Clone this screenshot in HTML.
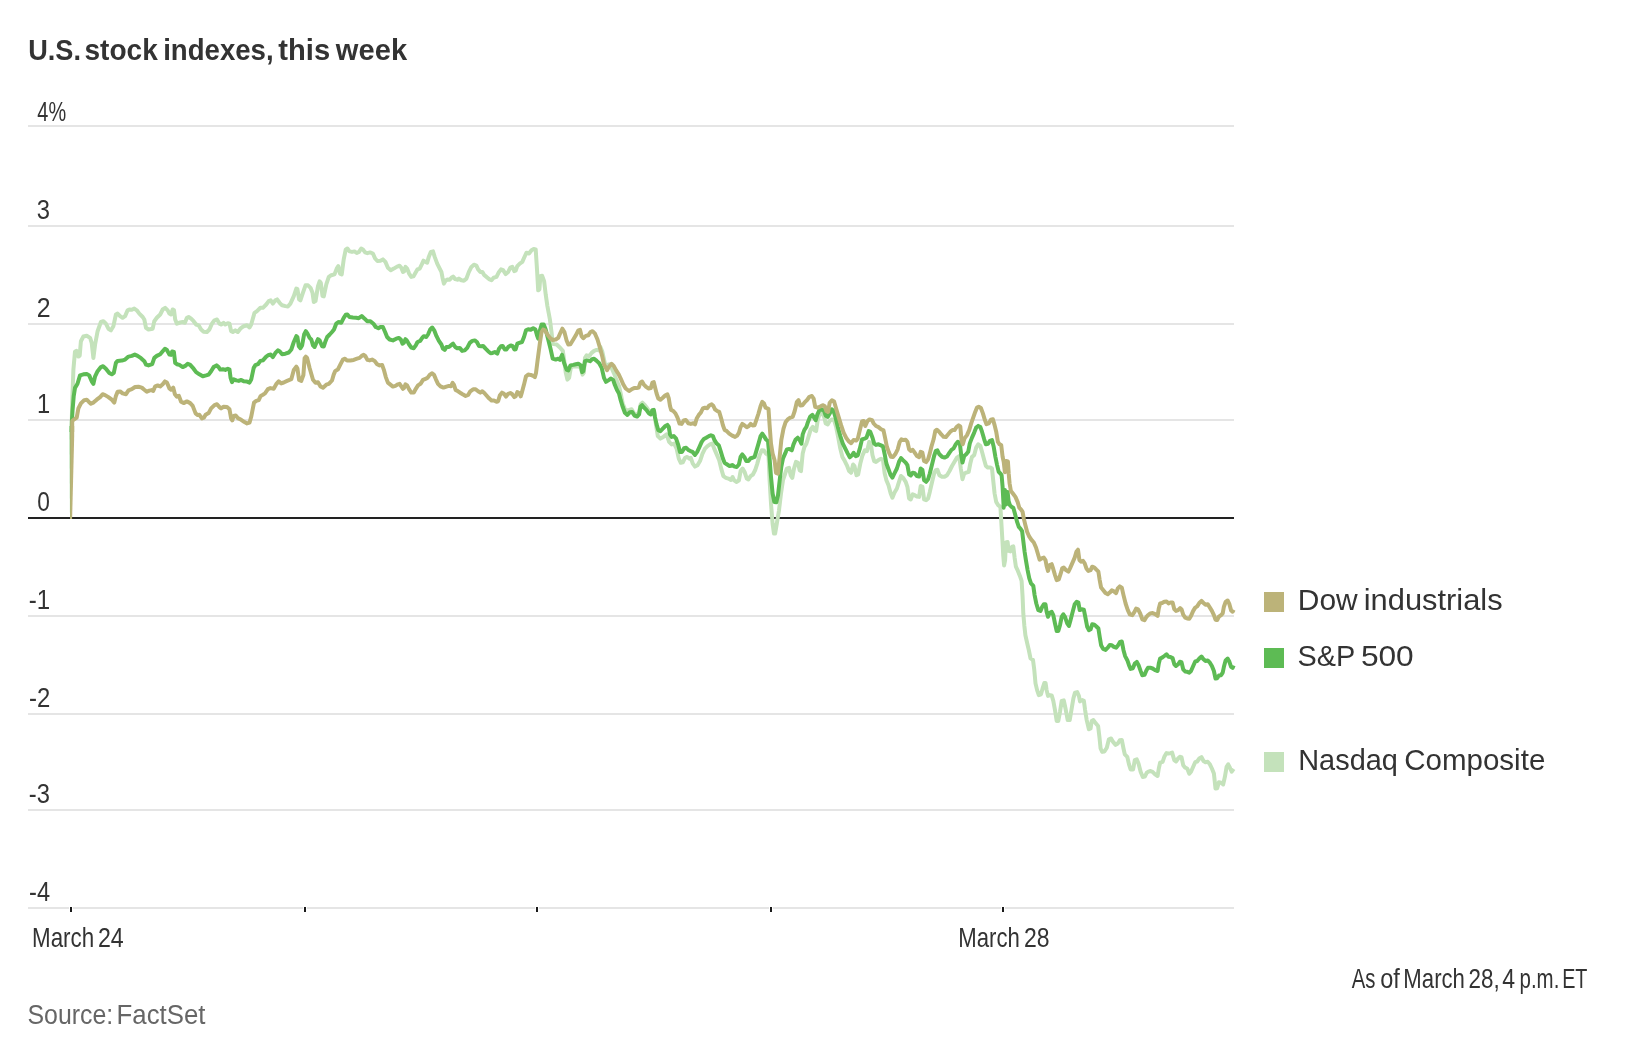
<!DOCTYPE html>
<html><head><meta charset="utf-8"><title>U.S. stock indexes, this week</title>
<style>
html,body{margin:0;padding:0;background:#fff;}
body{width:1632px;height:1048px;overflow:hidden;font-family:"Liberation Sans",sans-serif;}
svg{display:block;will-change:transform;}
text{font-family:"Liberation Sans",sans-serif;}
</style></head><body>
<svg width="1632" height="1048" viewBox="0 0 1632 1048">
<rect width="1632" height="1048" fill="#fff"/>
<rect x="28" y="125" width="1206" height="2" fill="#e5e5e5"/>
<rect x="28" y="225" width="1206" height="2" fill="#e5e5e5"/>
<rect x="28" y="323" width="1206" height="2" fill="#e5e5e5"/>
<rect x="28" y="419" width="1206" height="2" fill="#e5e5e5"/>
<rect x="28" y="615" width="1206" height="2" fill="#e5e5e5"/>
<rect x="28" y="713" width="1206" height="2" fill="#e5e5e5"/>
<rect x="28" y="809" width="1206" height="2" fill="#e5e5e5"/>
<rect x="28" y="907" width="1206" height="2" fill="#e5e5e5"/>
<rect x="28" y="517" width="1206" height="2" fill="#222"/>
<rect x="69" y="906" width="4" height="7" fill="#fff"/><rect x="70" y="907" width="2" height="5" fill="#1a1a1a"/>
<rect x="303" y="906" width="4" height="7" fill="#fff"/><rect x="304" y="907" width="2" height="5" fill="#1a1a1a"/>
<rect x="535" y="906" width="4" height="7" fill="#fff"/><rect x="536" y="907" width="2" height="5" fill="#1a1a1a"/>
<rect x="769" y="906" width="4" height="7" fill="#fff"/><rect x="770" y="907" width="2" height="5" fill="#1a1a1a"/>
<rect x="1001" y="906" width="4" height="7" fill="#fff"/><rect x="1002" y="907" width="2" height="5" fill="#1a1a1a"/>
<text x="28.23" y="59.9" font-size="29.5" font-weight="700" fill="#333" textLength="52.72" lengthAdjust="spacingAndGlyphs">U.S.</text>
<text x="84.54" y="59.9" font-size="29.5" font-weight="700" fill="#333" textLength="73.23" lengthAdjust="spacingAndGlyphs">stock</text>
<text x="163.14" y="59.9" font-size="29.5" font-weight="700" fill="#333" textLength="110.51" lengthAdjust="spacingAndGlyphs">indexes,</text>
<text x="278.34" y="59.9" font-size="29.5" font-weight="700" fill="#333" textLength="51.84" lengthAdjust="spacingAndGlyphs">this</text>
<text x="335.87" y="59.9" font-size="29.5" font-weight="700" fill="#333" textLength="71.21" lengthAdjust="spacingAndGlyphs">week</text>
<text x="37.36" y="120.7" font-size="28.1" fill="#333" textLength="28.74" lengthAdjust="spacingAndGlyphs">4%</text>
<text x="36.79" y="218.6" font-size="28.1" fill="#333" textLength="13.21" lengthAdjust="spacingAndGlyphs">3</text>
<text x="36.65" y="317.0" font-size="28.1" fill="#333" textLength="13.83" lengthAdjust="spacingAndGlyphs">2</text>
<text x="37.01" y="413.2" font-size="28.1" fill="#333" textLength="13.19" lengthAdjust="spacingAndGlyphs">1</text>
<text x="37.21" y="510.9" font-size="28.1" fill="#333" textLength="12.63" lengthAdjust="spacingAndGlyphs">0</text>
<text x="28.79" y="609.1" font-size="28.1" fill="#333" textLength="21.42" lengthAdjust="spacingAndGlyphs">-1</text>
<text x="29.03" y="707.1" font-size="28.1" fill="#333" textLength="21.24" lengthAdjust="spacingAndGlyphs">-2</text>
<text x="28.87" y="803.0" font-size="28.1" fill="#333" textLength="21.10" lengthAdjust="spacingAndGlyphs">-3</text>
<text x="29.07" y="901.2" font-size="28.1" fill="#333" textLength="20.99" lengthAdjust="spacingAndGlyphs">-4</text>
<text x="31.99" y="947.2" font-size="27.5" fill="#333" textLength="62.18" lengthAdjust="spacingAndGlyphs">March</text>
<text x="97.91" y="947.2" font-size="27.5" fill="#333" textLength="25.78" lengthAdjust="spacingAndGlyphs">24</text>
<text x="958.30" y="947.2" font-size="27.5" fill="#333" textLength="61.57" lengthAdjust="spacingAndGlyphs">March</text>
<text x="1023.96" y="947.2" font-size="27.5" fill="#333" textLength="25.58" lengthAdjust="spacingAndGlyphs">28</text>
<text x="1351.81" y="987.9" font-size="27.5" fill="#333" textLength="23.70" lengthAdjust="spacingAndGlyphs">As</text>
<text x="1380.14" y="987.9" font-size="27.5" fill="#333" textLength="19.63" lengthAdjust="spacingAndGlyphs">of</text>
<text x="1403.37" y="987.9" font-size="27.5" fill="#333" textLength="61.55" lengthAdjust="spacingAndGlyphs">March</text>
<text x="1468.60" y="987.9" font-size="27.5" fill="#333" textLength="31.14" lengthAdjust="spacingAndGlyphs">28,</text>
<text x="1502.20" y="987.9" font-size="27.5" fill="#333" textLength="12.81" lengthAdjust="spacingAndGlyphs">4</text>
<text x="1519.52" y="987.9" font-size="27.5" fill="#333" textLength="39.82" lengthAdjust="spacingAndGlyphs">p.m.</text>
<text x="1562.17" y="987.9" font-size="27.5" fill="#333" textLength="25.25" lengthAdjust="spacingAndGlyphs">ET</text>
<text x="27.49" y="1024.1" font-size="27.5" fill="#666" textLength="85.72" lengthAdjust="spacingAndGlyphs">Source:</text>
<text x="116.59" y="1024.1" font-size="27.5" fill="#666" textLength="88.81" lengthAdjust="spacingAndGlyphs">FactSet</text>
<text x="1297.80" y="609.7" font-size="29.5" fill="#333" textLength="59.88" lengthAdjust="spacingAndGlyphs">Dow</text>
<text x="1363.77" y="609.7" font-size="29.5" fill="#333" textLength="138.89" lengthAdjust="spacingAndGlyphs">industrials</text>
<text x="1297.51" y="665.7" font-size="29.5" fill="#333" textLength="57.69" lengthAdjust="spacingAndGlyphs">S&amp;P</text>
<text x="1360.92" y="665.7" font-size="29.5" fill="#333" textLength="52.84" lengthAdjust="spacingAndGlyphs">500</text>
<text x="1298.28" y="769.7" font-size="29.5" fill="#333" textLength="99.56" lengthAdjust="spacingAndGlyphs">Nasdaq</text>
<text x="1404.28" y="769.7" font-size="29.5" fill="#333" textLength="141.03" lengthAdjust="spacingAndGlyphs">Composite</text>
<g fill="none" stroke-width="4" stroke-linejoin="round" stroke-linecap="butt">
<path stroke="#c4e2bb" d="M71.6,432 L71.8,420 L72.2,403 L73.4,369.6 L75,351.5 L76.5,350.9 L77.7,352.2 L78.4,356.6 L79.7,355.6 L80.9,341.2 L83.4,336.5 L86.7,335.7 L90.1,337.9 L91.7,342.9 L93.4,357.9 L95.1,344.5 L97.6,331.2 L100.9,322 L103.4,321.2 L105.9,323.7 L108.4,328.7 L110.9,330.3 L113.4,326.2 L115.9,314.5 L117.6,313.6 L120.1,316.1 L122.6,317.8 L125.1,316.1 L127.6,310.3 L129.3,309.5 L131.8,309.8 L134.3,308.6 L136.8,310.3 L139.3,313.6 L142.7,317 L144.3,319.5 L146,327.8 L148.5,329.5 L152.7,328.7 L154.3,321.2 L156.8,317.8 L160.2,314.5 L162.7,309.5 L165.2,307.8 L167.7,310.3 L169.4,313.6 L171,314.5 L172.7,309.5 L174,310.3 L175.2,319.5 L176.9,323.7 L180.2,322.5 L182.7,322 L184.9,322.8 L186.9,317.8 L188.6,317 L191.1,318.7 L193.6,321.2 L196.1,324.5 L198.6,325.3 L201.1,329.5 L203.6,331.7 L206.9,332 L209.4,329.5 L211.9,323.7 L214.5,320.3 L217,319.5 L219.5,323.7 L221.1,324.5 L223.6,322.8 L225.3,324.5 L227.8,323.2 L229.5,323.7 L231.1,331.2 L232.8,332 L235.3,330.3 L237.8,332 L240.3,328.7 L243.7,326.2 L247,325.3 L249.5,327.5 L251.2,324.5 L254.5,312.8 L257,311.1 L260.4,307.8 L262.9,307.8 L266.2,304.5 L268.7,301.1 L270.7,300.3 L272.9,303.6 L275.4,300.3 L277.1,299.4 L279.6,302.8 L282.1,305.3 L285.4,306.1 L287.9,306.5 L290.4,303.6 L293.8,296.1 L296.3,288.6 L297.4,289.1 L299.1,299.4 L300.4,300.3 L302.9,292.8 L305.5,285.3 L308,285.3 L310.5,287.8 L312.5,292.8 L313.8,302 L315.5,301.1 L318,286.1 L319.6,281.4 L320.8,282.8 L322.5,296.1 L323.8,296.4 L326.3,284.4 L328.8,276.9 L331.3,275.2 L334.5,274.4 L336.7,268.6 L338.3,266.1 L340,273.6 L341.7,274.4 L343.7,259.4 L345.7,249.7 L347.4,248.5 L349.5,251.4 L352,251.9 L354.5,251.4 L356.7,253 L359,251.9 L361.2,248.5 L362.9,249.4 L365.1,252.4 L367.4,253.2 L370.1,252.4 L372.9,253.5 L375.1,258.5 L377.4,261 L380.4,260.7 L382.9,259.4 L385.4,261.9 L387.9,267.7 L390.8,270.2 L393.8,268.6 L397.1,266.6 L399.6,265.7 L401.3,267.7 L403,271.9 L404.1,271.4 L405.5,266.9 L407.1,268.6 L409.1,273.6 L411.3,276.9 L413.5,276.4 L415.5,272.7 L417.5,269.4 L419.7,268.6 L421.8,264.4 L423.5,260.7 L425.5,261.9 L427.2,262.7 L428.8,256.9 L430.8,251.9 L433,251.4 L434.7,256.9 L437.2,263.6 L439.7,268.6 L441.4,271.9 L442.5,277.7 L443.9,283.6 L445.5,280.7 L447.5,279.4 L449.7,279.7 L451.4,277.7 L453.1,276.6 L455.2,279.1 L457.2,279.7 L458.9,278.6 L461.4,280.2 L463.9,280.7 L466.4,278.6 L468.9,271.9 L471.4,266.9 L473.9,264.7 L476.4,265.7 L478.1,269.4 L480.3,271.9 L482.3,271.9 L484.3,275.2 L486.5,276.9 L489,279.1 L491.5,280.2 L493.6,277.7 L496.5,276.9 L499,271.9 L501,269.4 L503.1,270.2 L505.7,274.1 L508.2,271.9 L510.3,267.7 L512.3,266.9 L514.3,271.1 L515.7,270.7 L517.3,266.1 L519.8,263.6 L522.3,261.9 L524.9,256 L526.5,252.7 L529,253.5 L531.5,250.2 L533.7,249 L535.7,249.4 L537,269.4 L538.2,290.3 L539.4,289.4 L540.4,276.1 L542.1,275.7 L544.1,281.1 L545.7,294.4 L547.4,306.1 L549.9,319.5 L551.6,332.8 L552.7,343.7 L556.7,344.5 L559.9,347.5 L562.8,350.9 L564.1,359.6 L565.8,372.9 L567.4,379.6 L569.1,377.9 L570.8,367.9 L573.3,366.2 L575.8,366.6 L578.3,366.2 L580.8,367.9 L582.5,374.6 L583.8,372.9 L585,357.9 L586.6,355.4 L589.1,356.2 L591.6,352.9 L594.1,350.9 L596.7,349.9 L598.7,350.4 L600.3,346.9 L602.2,351.2 L605.3,365.4 L609,364.3 L611.5,367.6 L614,373.4 L616.5,380.1 L619,386 L620.7,393.5 L622.7,403.5 L625.4,410.2 L629,409.9 L631.6,409.3 L634.1,413.5 L637.1,415.2 L639.1,411.9 L640.7,404.3 L642.4,402.7 L644.9,405.2 L647.4,408.5 L649.9,412.2 L652.4,410.2 L654.1,411 L655.8,423.5 L657.8,436.1 L660.4,438.6 L663.3,436.9 L666.6,434.4 L669.1,441.9 L671.6,444.4 L674.1,443.6 L676.6,448.6 L678.8,458.6 L680.8,462.8 L682.8,462.3 L685,457.8 L687.2,456.9 L689.2,458.6 L690.8,457.8 L692.8,463.6 L695,466.6 L697.5,465.3 L700,461.1 L702.5,453.6 L705,448.6 L707.5,446.1 L710,444.4 L712.2,443.6 L714.2,448.6 L716.7,454.4 L719.2,460.3 L721.2,468.6 L723.4,476.1 L725.9,477.8 L728.4,478.6 L730.9,480 L732.6,477 L734.2,480.3 L736.7,482 L738.9,480.3 L740.6,471.1 L742.6,468.6 L744.6,472 L746.8,478.6 L748.4,479.5 L750.6,476.1 L752.9,474.5 L755.1,470.3 L757.3,463.6 L759.6,455.3 L761.8,450.3 L764,450.6 L766,453.6 L768.5,455.3 L769.6,480.1 L771,503.5 L772.6,523.6 L774,533.6 L775.1,533.6 L776.8,523.6 L779,510.2 L781,493.5 L783,480.1 L785.2,473.5 L786.8,468.6 L789,467.8 L790.7,475.3 L792.3,477.8 L794,468.6 L796,461.9 L798,462.8 L799.7,470.3 L801,471.1 L802.7,453.6 L804.4,446.9 L806.4,443.6 L808.5,436.9 L810.7,429.4 L812.7,426.9 L814.4,430.2 L816.1,431.1 L817.7,420.2 L819.7,413.5 L821.9,411.9 L824.1,416.9 L825.7,423.5 L827.7,424.4 L829.7,421 L831.9,419.4 L834.1,420.2 L836.1,426.9 L838.1,436.9 L840.3,448.6 L842.4,456.9 L844.8,461.1 L846.9,465.3 L849.1,471.1 L851.1,472.8 L853.1,464.5 L854.5,466.1 L856.5,475.3 L858.1,474.5 L860.3,463.6 L862.5,455.3 L864.8,450.3 L867,451.1 L869.2,441.9 L870.8,443.6 L872.5,455.3 L874.2,461.1 L876,461.9 L878.5,460.1 L881,458.8 L883,460.1 L884.7,473.5 L886.4,480.2 L888.5,485.2 L890.7,493.5 L892.4,497.7 L894.4,492.7 L896.9,488.5 L899,481.8 L901,476 L903,477.7 L905.7,481.8 L907.4,486.8 L909.1,498.5 L910.7,499.4 L912.7,494.4 L914.7,495.2 L916.9,496.5 L919.1,496.9 L920.7,486 L922.4,486.8 L924.1,499.4 L926.1,500.2 L928.1,498.5 L929.8,491.9 L931.9,482.7 L934.1,473.5 L935.8,470.1 L937.4,469.8 L939.4,475.2 L942,476.8 L944.5,476.8 L947,475.2 L949.5,471 L952,466 L954.5,461.8 L957,457.6 L959.2,456 L960.8,468.5 L962.5,479.3 L964.2,473.5 L966.2,472.7 L968.7,471.8 L970.3,463.5 L972,456.8 L974.2,455.1 L976.2,447.6 L978.2,444.3 L980.4,445.9 L982,451.8 L984.2,460.1 L985.9,466 L987.9,467.6 L990.4,467.6 L992,468.5 L993.2,480.2 L994.6,493.5 L996.2,501.9 L998.2,505.2 L1000.4,506.9 L1001.2,520.2 L1002.4,540 L1003.2,555 L1004.1,565.4 L1005.1,560.1 L1005.9,542.5 L1007.6,542 L1008.7,550.9 L1010.4,551.4 L1012.1,546.7 L1013.3,546.4 L1014.6,557.6 L1015.9,566.7 L1017.9,570.9 L1019.9,575.9 L1021.6,580.9 L1022.6,596.8 L1023.3,613.5 L1024.3,625.2 L1025.4,635.2 L1027.6,645 L1028.8,650 L1030.5,658.4 L1033,660 L1034.3,670.1 L1035.5,683.4 L1037.1,690.1 L1038.8,695.1 L1041,694.3 L1042.6,688.4 L1044.3,683.1 L1045.6,683.1 L1046.6,690.1 L1048,695.9 L1050,695.1 L1051.7,695.4 L1053.3,700.9 L1055,710.1 L1056.7,721 L1058.3,721 L1060,711.8 L1061.7,700.9 L1063.8,700.4 L1065.5,708.5 L1067.7,720.1 L1069.7,720.1 L1071.4,710.1 L1073.4,698.4 L1075,692.6 L1077.2,692.1 L1078.9,695.9 L1080,701.4 L1082.2,700.1 L1083.9,700.9 L1085.1,710.1 L1086.7,720.1 L1088.9,729.3 L1090.6,728.5 L1091.7,721 L1093.4,720.1 L1095.6,723.2 L1098.1,726 L1099.4,736.8 L1100.6,748.5 L1102.2,751.9 L1104.4,751.5 L1106.8,747.7 L1108.9,739.3 L1111.1,738.5 L1113.1,741.9 L1115.6,744.9 L1117.8,743.5 L1119.8,740.2 L1121.8,739.9 L1123.5,748.5 L1124.8,754.4 L1127.3,756.9 L1129,764.4 L1130.6,769.4 L1133.1,769.4 L1134.8,760.2 L1136.8,759.4 L1138.5,763.6 L1140.7,771.9 L1142.8,776.9 L1144.8,776.6 L1146.8,772.7 L1148,771.9 L1150.1,771 L1152.6,771.8 L1155.1,774.3 L1157.6,776 L1158.8,768.5 L1160.1,762.7 L1162.6,761.8 L1164.3,756.8 L1166.5,753.1 L1168.5,753.5 L1170.5,753.1 L1172.1,752.6 L1174.3,760.1 L1176,761.5 L1178.1,758.5 L1179.8,756.8 L1181.5,757.1 L1183.2,765.2 L1185.2,767.7 L1187.2,768.5 L1189.3,773.8 L1191,771.8 L1193.2,766.8 L1195.2,762.2 L1197.2,761.5 L1199.3,758.5 L1201.5,757.1 L1203.5,761 L1205.5,762.2 L1207.7,761.8 L1209.9,764.3 L1211.9,768.5 L1213.9,773.5 L1215.5,788.5 L1217.2,788.2 L1218.9,782.2 L1221.1,782.7 L1223.2,784.4 L1224.9,776.8 L1226.6,766.8 L1228.2,764.3 L1229.9,767.7 L1231.7,771.7 L1233.7,768.8"/>
<path stroke="#5dbb54" d="M71.7,432 L71.9,421 L72.5,411 L73.7,396.3 L75,387.9 L77.5,383.8 L80,375.4 L83.4,374.3 L86.7,373.9 L89.2,375.4 L91.7,381.3 L93.4,383.8 L95.1,376.3 L97.6,371.2 L100.9,367.1 L103.1,366.2 L105.9,368.7 L109.3,372.9 L111.8,374.3 L113.8,372.9 L115.9,362.9 L117.6,360.9 L121.8,360.6 L125.1,359.6 L128.5,356.6 L131.8,355.9 L134.8,354.6 L137.6,355.9 L141,358.2 L144.3,361.2 L146,364.6 L148.5,365.4 L152.2,364.2 L154.3,357.9 L156.8,355.9 L160.2,354.2 L162.7,351.2 L164.9,348.7 L166.9,350 L169.4,354.6 L171,354.9 L172.2,351.5 L173.9,352 L175.2,362.9 L176.9,364.2 L179.4,364.9 L182.7,367.1 L185.2,365.9 L187.7,363.7 L190.2,364.9 L193.6,368.7 L196.1,372.1 L199.4,374.3 L202.8,376.3 L206.1,375.4 L208.6,374.6 L211.1,371.2 L213.6,367.1 L216.5,365.4 L218.6,367.1 L220.3,369.6 L222.8,369.2 L225.3,369.9 L227.8,368.7 L229.5,369.6 L230.6,377.9 L232,382.1 L233.7,379.3 L236.2,380.4 L238.7,380.9 L241.2,379.9 L243.7,381.3 L247,381.6 L249.5,382.6 L251.2,379.6 L253.7,367.9 L255.4,365.1 L257.9,364.2 L260.4,360.9 L262.9,360.4 L266.2,356.6 L268.7,354.9 L270.7,354.6 L272.9,357.1 L275.4,352.9 L277.9,350.4 L279.6,351.2 L282.1,354.2 L285.4,353.7 L288.8,352.5 L291.3,349.5 L293.8,342 L296.3,336.2 L297.4,337 L298.8,346.2 L300.4,348.2 L302.1,345.4 L304.1,334.5 L305.8,331.2 L307.5,333.7 L309.6,337.9 L311.3,339.5 L313,345.4 L314.6,347 L316.3,342.9 L318,339.2 L319.6,340.4 L322.1,346.2 L323.8,346.5 L325.5,341.2 L327.2,337 L329.7,334.5 L332,332 L334,329.5 L336.2,323.7 L338.7,322 L341.2,322.8 L343.7,317.8 L345.7,314.8 L347.4,314.5 L349.5,317 L352.9,317.5 L356.2,317.8 L358.7,318.2 L361.7,316.1 L364.6,318.7 L367.1,321.2 L370.4,321.2 L373.4,323.7 L375.7,327 L378.4,328.2 L380.4,327 L382.9,327 L385.1,332 L387.1,337 L389.6,339.5 L392.9,340.4 L396.3,338.7 L398.8,337.9 L400.8,339.5 L402.5,343.7 L403.8,342.9 L405.5,339.2 L407.1,340.9 L409.1,344.5 L411.3,347.5 L413.8,348.2 L415.8,345.4 L417.5,342 L420.2,340.9 L422.2,337.9 L423.8,336.2 L426.3,337 L428,334.5 L430.2,329.5 L432.2,327.5 L434.2,330.3 L436.4,335.9 L438.9,340.9 L441.4,344.5 L443,348.7 L444.7,349.9 L446.4,347 L448.9,347 L450.9,345.4 L453.1,343.7 L455.2,347 L457.2,348.2 L459.7,347.9 L462.2,350.9 L464.7,350.4 L467.2,347.9 L469.8,342.9 L472.3,340.9 L474.8,340.4 L476.9,342 L478.9,345.9 L481.4,346.2 L483.1,345.9 L485.6,348.7 L488.1,351.2 L490.6,353.2 L492.6,352.9 L494.8,352 L497.3,353.7 L499,348.7 L501,346.2 L502.6,345.9 L504.8,349.5 L506.5,349.5 L508.2,347 L510.7,345.4 L512.7,346.2 L514.3,349.5 L515.7,349.2 L517.3,343.7 L519.3,342.9 L522,342 L524,337 L526,330.3 L528.2,329.2 L530.7,329.8 L533.2,328.2 L535.4,329.5 L537,335.3 L538.2,338.7 L539.9,330.3 L541.6,324.5 L543.7,324.5 L545.7,329.5 L548.2,339.5 L550.7,349.5 L552.7,358.7 L555.7,359.6 L558.2,358.7 L559.9,359.9 L562.1,354.9 L564.1,362.9 L566.6,369.6 L568.3,370.4 L570.4,365.4 L573.3,364.9 L575.8,364.2 L578.3,363.7 L580.8,365.4 L582.1,372.1 L583.3,371.2 L585,361.2 L587.5,360.4 L590,361.2 L592.1,359.2 L594.1,358.7 L596.7,360.9 L599.2,363.2 L601.7,367.9 L604,377.9 L606,381.8 L608.7,380.1 L611,378.5 L613.2,380.1 L614.9,385.1 L617,390.1 L619,393.5 L620.7,400.2 L622.7,406.8 L624.9,412.7 L627.4,414.9 L629.9,412.2 L632.1,411.9 L634.4,415.5 L637.1,416.5 L639.1,414.4 L640.4,406.8 L642.1,405.2 L644.1,407.7 L646.6,410.2 L648.7,413.2 L650.8,414.4 L652.4,410.2 L653.8,409.9 L654.9,416.9 L656.6,424.4 L658.3,430.2 L660.4,431.1 L662.8,428.6 L665.4,426 L667.4,424.9 L668.8,426.9 L670,434.4 L671.6,436.9 L673.8,436.1 L676.1,438.6 L678.3,445.2 L680,451.9 L682.1,451.9 L684.1,448.3 L686.2,447.8 L688.3,449.9 L690.5,451.1 L692.5,451.9 L695,454.9 L697.2,451.9 L699.5,446.9 L701.7,441.9 L703.9,438.9 L706.2,437.7 L708.9,436.1 L710.9,435.2 L712.9,436.1 L714.5,440.2 L716.7,443.6 L718.9,445.6 L720.9,451.9 L722.9,458.6 L724.6,462.8 L727.2,464.5 L729.6,466.1 L732.2,465 L734.6,466.6 L736.7,467 L738.9,464.5 L740.6,456.9 L742.3,454.4 L744.3,456.9 L746.3,461.1 L748.4,461.1 L750.6,458.3 L752.6,457.8 L754.6,456.9 L756.3,451.1 L758.5,443.6 L760.6,436.1 L762.3,433.6 L764,436.1 L766,439.4 L768,441.1 L769.6,458.4 L771,476.8 L772.6,493.5 L774.3,501.9 L776.3,502.2 L778,495.2 L779.7,480.1 L781.3,466.8 L783,458.4 L785.2,453.4 L786.8,449.4 L789.3,448.9 L791.8,450.3 L793.5,444.4 L795.7,439.4 L797.7,437.7 L799.7,440.2 L801.4,443.6 L802.7,434.4 L804.4,429.9 L806.4,426.9 L808,421.9 L810.2,416.5 L812.4,414.9 L814.1,417.7 L815.7,420.2 L817.4,414.4 L819.4,410.2 L821.9,409.3 L824.1,411 L825.7,415.5 L827.7,416.9 L829.7,413.5 L831.9,409.3 L833.6,411 L835.8,418.5 L837.8,426.9 L840.3,436.1 L842.8,443.6 L845.3,448.6 L847.8,453.6 L849.8,457.3 L852,455.3 L853.6,452.8 L855.8,456.1 L857.8,455.3 L859.8,448.6 L862,439.4 L864.5,438.6 L866.5,437.7 L868.7,431.1 L870.3,431.9 L872.5,437.7 L874.2,443.6 L876,444.9 L878.5,444.3 L881,445.4 L883,446.4 L884.7,454.3 L886.4,463.5 L888.5,469.3 L890.7,475.2 L892.4,477.7 L894.4,473.5 L896.9,468.5 L899,461.8 L901,458.1 L903,460.1 L905.7,462.6 L907.4,465.1 L909.1,474.3 L910.7,475.5 L912.7,472.7 L914.7,473.2 L916.9,476 L919.1,476.5 L920.7,468.5 L922.4,469.8 L924.1,480.2 L926.1,481.8 L928.1,479.3 L929.8,473.5 L931.9,465.1 L934.1,456 L935.8,450.9 L937.4,450.4 L939.4,454.3 L942,456.8 L944.5,457.6 L947,456.5 L949.5,452.6 L951.5,449.8 L953.6,448.4 L955.8,444.3 L957.8,441.8 L959.8,443.1 L961.2,455.1 L962.5,462.6 L964.2,456 L966.2,454.3 L968.2,451.8 L969.8,443.4 L972,437.6 L974.2,432.6 L976.2,427.6 L978.2,425.9 L980.4,427.1 L982,431.7 L984.2,439.3 L985.9,444.3 L987.9,443.8 L989.9,440.9 L992,440.1 L993.7,446.8 L995.4,456.8 L997.1,465.1 L998.7,471.8 L1000.4,473.5 L1001.6,475.2 L1002.6,486.8 L1003.7,507.7 L1004.9,489.9 L1006.2,504.4 L1007.6,491.9 L1008.6,501 L1009.9,505.2 L1011.6,506.9 L1013.3,507.7 L1014.9,513.6 L1017.1,521.9 L1018.8,526.9 L1020.4,528.6 L1022.1,531.1 L1023.3,540.9 L1024.6,551.7 L1025.9,560.1 L1027.6,570.1 L1029.3,578.4 L1031,583.4 L1033.3,585.9 L1034.6,595.1 L1036.3,603.5 L1038.3,610.1 L1040.5,611 L1042.1,607.1 L1043.8,604.3 L1045.5,604.3 L1046.6,611.8 L1048,616.8 L1049.7,612.7 L1051.7,611.8 L1053.3,615.2 L1055,623.5 L1056.7,631 L1058.3,631 L1060,625.2 L1061.7,616.8 L1063.3,614.3 L1065,616.8 L1067.2,623.5 L1068.9,626 L1070.5,620.2 L1072.7,611.8 L1074.7,604.3 L1076.7,601.8 L1078.4,602.6 L1079.7,610.1 L1081.7,609.3 L1083.9,609.8 L1085.6,618.5 L1087.2,626.8 L1088.9,630.2 L1090.6,629.3 L1092.2,624.3 L1094.4,624.8 L1096.4,626.5 L1098.4,628.5 L1099.7,636.9 L1101.1,645.2 L1103.1,648.9 L1105.6,649.9 L1107.8,647.7 L1109.8,644.9 L1111.8,645.2 L1113.9,646.9 L1116.1,647.7 L1118.1,645.2 L1120.1,641.9 L1121.8,641.5 L1123.5,650.2 L1125.1,656.1 L1127.3,660.2 L1129,665.2 L1130.6,668.9 L1132.8,668.3 L1134.8,663.6 L1136.8,661.9 L1138.5,664.9 L1140.7,671.1 L1142.3,675.3 L1144.5,674.9 L1146.5,670.3 L1148,667.8 L1150.1,667.7 L1152.6,668.5 L1155.1,670.2 L1157.6,671 L1158.8,663.5 L1160.1,658.5 L1162.1,657.6 L1164.3,656 L1166.5,654.3 L1168.5,656.8 L1170.5,657.1 L1172.6,658.1 L1174.3,664.3 L1176,666 L1178.1,664.3 L1179.8,661.8 L1181.5,662.2 L1183.2,669.3 L1185.2,671.5 L1187.2,671.8 L1189.3,672.7 L1191,671 L1193.2,666 L1195.2,661.5 L1197.2,661 L1199.3,658.5 L1201.5,656.5 L1203.5,659.3 L1205.5,661 L1207.7,660.5 L1209.9,662.7 L1211.9,666 L1213.9,671 L1215.5,678.5 L1217.2,678.2 L1218.9,675.5 L1221.1,675.2 L1222.7,672.7 L1223.9,666.8 L1225.6,660.5 L1227.7,658.6 L1229.4,661.8 L1231.1,666.8 L1232.6,667.8 L1233.7,665.5"/>
<path stroke="#bcb379" d="M72.2,432 L72.2,421 L74.2,419.3 L76.7,417.6 L78.4,408.4 L80.9,403.4 L84.2,400.1 L86.7,399.7 L88.7,401.7 L90.9,403.7 L93.4,402.6 L96.7,399.7 L100.1,397.1 L102.6,394.2 L105.1,395.1 L108.4,397.1 L111.8,399.7 L114.3,402.6 L115.9,395.9 L117.6,391.7 L120.1,391.4 L122.6,393.4 L126,394.2 L128.5,390.4 L131.8,389.2 L135.1,387 L138.5,386.7 L141.8,387.6 L144.3,389.7 L146.8,391.7 L149.3,390.6 L151.5,390.1 L153.2,390.9 L155.2,386.4 L157.7,385.5 L160.2,386.4 L162.7,384.2 L164.9,381.4 L166.9,382.5 L169.4,388.4 L171,389.7 L173.2,387.6 L174.9,394.2 L176.9,396.7 L178.9,395.9 L181.1,401.7 L183.6,403.1 L186.9,401.4 L190.2,403.1 L192.7,405.9 L195.6,413.4 L197.8,415.1 L199.4,414.8 L201.9,418.4 L203.9,417.6 L205.6,414.8 L208.6,413.1 L211.1,408.4 L214.5,405.1 L217,404.2 L219.5,407.1 L221.1,408.4 L223.6,406.8 L227,407.1 L229.5,409.3 L231.1,418.4 L232.3,420.4 L233.7,415.9 L235.7,415.4 L237.8,418.1 L241.2,419.8 L244.5,422.1 L247,423.4 L249.5,422.6 L251.2,416.8 L254,402.6 L256.2,400.9 L258.7,400.1 L260.7,395.9 L262.9,394.7 L265,393.4 L267.9,389.2 L270.4,388.1 L273.7,388.7 L276.2,384.2 L278.7,381.4 L281.2,383.4 L283.7,382.5 L287.1,380.9 L291.3,379.2 L293.8,370 L296.3,366.7 L297.4,368.3 L299.1,380 L301.3,380.9 L303.4,375 L304.6,358.3 L305.8,356.7 L307.1,358 L309.6,368 L313,379.7 L315.5,382.7 L318,382.2 L320.5,386.4 L323,387.7 L326.3,384.7 L328.8,383.9 L332,380.5 L333.7,374.6 L335.3,370.9 L337.8,369.6 L340.3,364.6 L342.9,359.6 L345,358.7 L347,360.4 L350.4,360.4 L353.7,359.9 L357,358.7 L359.6,357.9 L361.7,355.9 L363.7,354.9 L365.4,356.2 L367.4,359.9 L369.6,360.4 L372.1,359.6 L374.6,360.9 L377.1,364.2 L379.6,365.4 L382.1,364.9 L383.8,369.6 L385.8,377.1 L387.9,382.6 L390.4,384.6 L392.9,386.6 L395.4,385.9 L398,384.3 L399.6,383.8 L401.3,386.3 L403,388.8 L404.1,387.9 L405.5,384.3 L407.1,385.4 L409.1,389.3 L411.3,392.6 L413.8,392.6 L415.8,388.8 L418,385.4 L420.5,383.8 L423,379.9 L425.5,378.8 L427.5,377.9 L429.7,374.9 L431.9,373.3 L433.9,374.6 L435.9,379.3 L438,383.8 L440.5,386.3 L443.5,387.6 L446.4,386.6 L448.9,385.9 L450.9,386.3 L452.6,382.9 L453.9,384.6 L455.6,389.9 L458.1,391.3 L460.6,393 L463.1,394.6 L465.6,396 L468.1,395 L470.3,391.3 L473.1,389.3 L475.6,389.3 L478.1,391.3 L480.3,392.6 L482.3,391.3 L484.3,393 L486.5,395.5 L489,398.3 L491.5,400.5 L494,400.5 L496.5,401.8 L498.1,401.3 L499.8,395.5 L502,392.6 L504,393.8 L506,396.6 L508.2,393.8 L510.3,393 L512.3,394.3 L514.3,397.1 L515.7,396.3 L517.3,392.1 L519,393 L520.7,396.3 L522,392.1 L524,384.6 L526,376.3 L528.2,374.6 L530.7,374.9 L533.2,375.9 L534.9,377.1 L536,372.9 L537.7,359.6 L539.9,342.9 L541.6,332 L543.2,329.5 L544.9,330.3 L547.4,334.5 L549.9,337.9 L552.4,339.9 L555.7,339.5 L558.2,337.9 L560.4,332.8 L562.4,328.7 L564.4,332 L566.6,340.4 L568.3,344.5 L570.4,344.2 L573.3,339.5 L575.8,335.3 L578.3,330.3 L580,329.8 L581.6,336.2 L583.3,338.2 L585.8,335.9 L588.3,335.3 L590.5,332 L592.5,331.2 L595,333.7 L597.5,339.5 L600,347.9 L602.2,356.2 L604,364.6 L605.3,366.8 L607,370.1 L609,366.8 L611.5,363.8 L613.7,365.9 L616,370.1 L618.7,374.3 L620.7,378.5 L623.2,384.3 L625.7,388.5 L629,391 L631.6,389.3 L634.1,388.1 L636.6,388.1 L638.7,387.6 L640.4,382.6 L642.1,381.5 L643.7,384.3 L646.1,386.8 L648.7,388.5 L650.8,388.1 L652.4,382.6 L653.8,382.1 L654.9,386.8 L656.6,393.5 L658.3,398.5 L660.4,399.8 L662.8,397.7 L665.4,395.2 L667.4,394.3 L668.8,398.5 L670,406 L671.1,409.9 L673.3,411 L675.5,413.5 L677.5,417.7 L679.5,423.5 L681.6,423.9 L683.8,420.5 L685.8,419.9 L688.3,423.2 L690.8,423.9 L693.3,423.2 L695,424.4 L696.7,418.5 L698.8,414.9 L700.8,412.7 L702.8,408.5 L705,407.7 L707.2,408.2 L709.2,405.5 L711.7,404.3 L713.4,406 L715,409.3 L717.2,411 L719.2,411.9 L721.2,418.5 L722.9,425.2 L724.6,429.9 L726.7,431.1 L729.2,433.6 L732.2,435.6 L735.1,436.9 L737.2,435.6 L738.9,432.7 L740.6,426.9 L742.3,423.9 L744.3,425.2 L746.8,427.2 L748.9,426 L750.6,423.9 L752.6,425.5 L754.6,425.2 L756.3,420.2 L758.5,413.5 L760.6,406 L762.3,401.8 L764,403.5 L765.6,407.7 L768.5,408.8 L769.6,425.2 L771,443.6 L772.6,453.6 L774.6,460.3 L776,472.8 L778,473.6 L779.3,460.3 L781.3,440.2 L783.5,428.6 L785.7,421.9 L787.7,419.4 L790.2,417.7 L792.7,416.9 L794.7,411 L796.9,401.8 L798.5,400.2 L800.2,405.5 L802.4,405.2 L804.4,402.7 L806.9,400.2 L809.4,396.8 L811.9,396 L813.6,398.5 L815.2,406.8 L817.7,407.7 L820.2,406.5 L822.7,405.2 L824.7,406 L826.4,411 L828.1,411.9 L829.7,402.7 L831.9,400.2 L834.1,401.5 L836.1,408.5 L838.6,416.9 L841.1,425.2 L843.6,432.7 L846.1,437.7 L848.6,441.1 L851.1,443.2 L853.6,439.9 L856.1,440.6 L857.8,438.6 L859.8,430.2 L862,421.5 L863.6,421 L865.3,426 L867.5,421 L869.5,419.4 L872,420.2 L873.7,423.5 L876,426 L878.5,427.1 L881,429.2 L883.5,430.4 L885.2,438.4 L886.9,446.8 L889,452.6 L891,456.8 L893,457.1 L895.2,454.3 L897.7,449.3 L899.7,441.8 L901.4,439.3 L903.6,440.1 L905.7,439.8 L907.4,441.8 L909.1,449.3 L910.7,450.9 L912.7,449.8 L914.7,452.6 L916.9,456 L919.1,457.1 L920.7,451.8 L922.4,452.6 L924.1,461 L926.1,462.1 L928.1,459.3 L929.8,453.4 L931.4,446.8 L933.6,439.3 L935.3,430.9 L936.9,429.7 L939.1,431.7 L941.5,434.7 L943.6,436.8 L945.8,437.1 L947.8,434.7 L950.3,431.7 L952.5,430.1 L954.5,430.1 L956.5,427.1 L958.7,425.4 L960.3,426.4 L961.5,440.1 L962.8,444.3 L964.5,438.4 L967,435.1 L969.2,430.1 L971.2,423.4 L973.2,417.6 L975.3,411.7 L977,407.5 L978.7,406.7 L980.9,408 L982.9,413.4 L984.9,420.1 L986.5,424.2 L988.7,423.4 L990.9,419.7 L992.9,419.2 L994.6,425.1 L996.2,431.7 L997.9,441.8 L999.6,444.3 L1001.2,445.1 L1002.6,456.8 L1003.7,461.8 L1004.9,472.2 L1006.1,461 L1007.9,461.5 L1008.7,473.5 L1009.6,483.5 L1010.9,491 L1012.9,493.5 L1015.4,496.9 L1017.6,501.9 L1019.3,507.7 L1021.3,509.9 L1022.6,511.9 L1023.8,518.6 L1025.4,525.2 L1027.1,531.7 L1029.3,536.7 L1031.3,539.7 L1033.8,542.5 L1036,547.5 L1038,554.2 L1039.6,559.7 L1041.6,558.4 L1043.8,557.6 L1045.5,560.1 L1046.6,565.9 L1048,570.9 L1049.7,565.1 L1051.7,564.2 L1053.3,569.2 L1055,575.1 L1056.7,580.1 L1058.8,579.3 L1060.5,574.2 L1062.2,568.4 L1063.8,567.6 L1066,570.1 L1068.4,571.7 L1070,568.4 L1072.2,563.4 L1074.7,557.6 L1076.4,551.7 L1078,549.7 L1079.4,560.1 L1081,561.7 L1083,560.9 L1084.7,563.4 L1086.4,568.4 L1088.4,570.9 L1090.6,570.1 L1092.2,566.7 L1094.4,567.6 L1096.4,569.7 L1098.4,571.7 L1099.7,580.1 L1101.1,587.6 L1103.1,590.1 L1105.6,593.1 L1107.8,594.3 L1109.8,592.6 L1111.8,590.4 L1113.9,591.4 L1116.1,593.1 L1117.8,588.4 L1119.8,586.4 L1121.8,587.6 L1123.5,595.1 L1125.6,603.5 L1127.8,610.1 L1129.8,614.3 L1132.3,615.2 L1134.5,611.8 L1136.1,608.5 L1138.1,609.3 L1140.2,613.5 L1142.3,619.3 L1144.5,620.2 L1146.5,616.8 L1148,615.2 L1150.1,613.4 L1152.6,613.1 L1155.1,614.2 L1157.6,615.9 L1158.8,608.4 L1160.1,603.4 L1162.1,603 L1164.3,601.7 L1166.5,601.4 L1168.5,603.4 L1170.5,602.5 L1172.6,602.5 L1174.3,609.2 L1176,610.9 L1178.1,610.1 L1180.1,608.1 L1181.5,609.2 L1183.2,614.7 L1185.2,617.6 L1187.2,618.4 L1189.3,618.7 L1191,615.9 L1193.2,610.9 L1195.2,607.6 L1197.2,606.4 L1199.3,603 L1201.5,600.9 L1203.5,603 L1205.5,604.7 L1207.7,604.2 L1209.9,607.6 L1211.9,610.9 L1213.9,615.1 L1215.5,619.7 L1217.2,620.1 L1218.9,616.7 L1221.1,615.1 L1222.7,613.4 L1223.9,606.7 L1225.6,602 L1227.7,600.5 L1229.4,604.2 L1231.1,610.4 L1232.6,611.7 L1233.7,609.7"/>
</g>
<polygon fill="#5dbb54" points="70,519 71,519 72,426 69.6,426"/>
<polygon fill="#bcb379" points="70.1,519 72.1,519 74.2,436 74.2,426 70.2,426"/>
<rect x="1264" y="592" width="20" height="20" fill="#bcb379"/>
<rect x="1264" y="648" width="20" height="20" fill="#5dbb54"/>
<rect x="1264" y="752" width="20" height="20" fill="#c4e2bb"/>
</svg>
</body></html>
